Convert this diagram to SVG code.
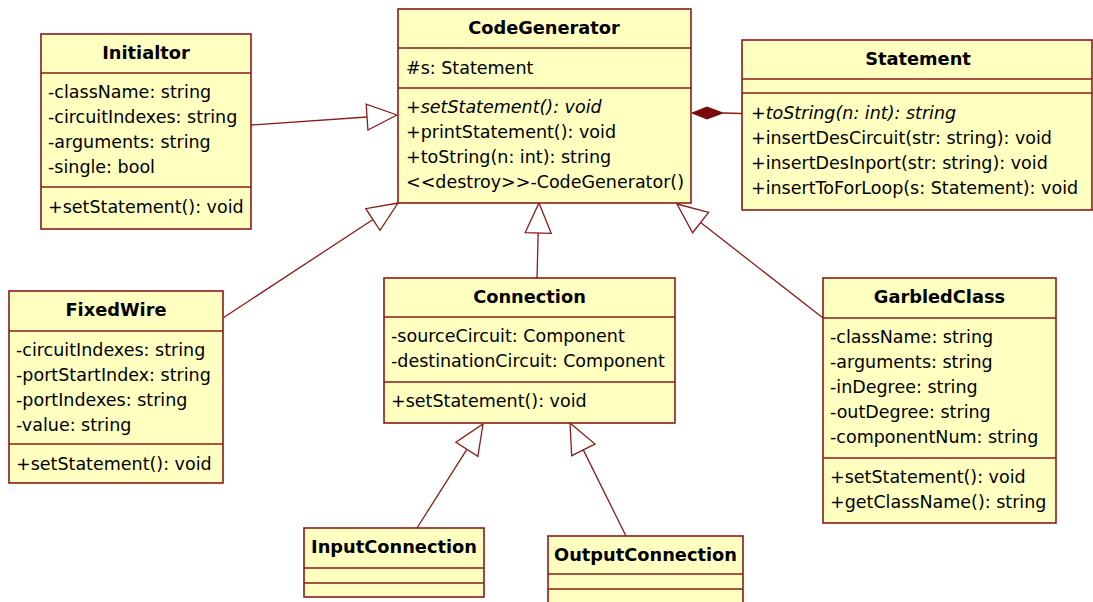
<svg xmlns="http://www.w3.org/2000/svg" width="1093" height="602" viewBox="0 0 1093 602">
  <style>
    .box { fill: #ffffc0; stroke: #8c1a1a; stroke-width: 1.6; }
    .sep { stroke: #8c1a1a; stroke-width: 1.6; }
    .t { font-family: "DejaVu Sans", Verdana, sans-serif; font-size: 17.5px; fill: #000; }
    .title { font-family: "DejaVu Sans", Verdana, sans-serif; font-size: 17.8px; font-weight: bold; fill: #000; text-anchor: middle; }
    .abs { font-style: italic; }
    .edge { stroke: #8c1a1a; stroke-width: 1.3; fill: none; }
    .gen { fill: #ffffff; stroke: #8c1a1a; stroke-width: 1.3; }
    .comp { fill: #7a0a0a; stroke: #7a0a0a; stroke-width: 1; }
  </style>
  <rect width="1093" height="602" fill="#ffffff"/>

  <!-- relationships -->
  <g id="connectors">
    <!-- Initialtor -> CodeGenerator -->
    <line class="edge" x1="251" y1="125" x2="367" y2="117"/>
    <polygon class="gen" points="397,115 367.9,130 366.2,104.1"/>
    <!-- FixedWire -> CodeGenerator -->
    <line class="edge" x1="223" y1="318" x2="373" y2="219.5"/>
    <polygon class="gen" points="398,203 380,230.4 365.8,208.6"/>
    <!-- Connection -> CodeGenerator -->
    <line class="edge" x1="537" y1="278" x2="538.2" y2="233"/>
    <polygon class="gen" points="539,203 551.2,233.3 525.2,232.6"/>
    <!-- GarbledClass -> CodeGenerator -->
    <line class="edge" x1="823" y1="318" x2="700.6" y2="222.5"/>
    <polygon class="gen" points="677,204 708.6,212.3 692.6,232.7"/>
    <!-- InputConnection -> Connection -->
    <line class="edge" x1="417" y1="528" x2="466.9" y2="449.3"/>
    <polygon class="gen" points="483,424 477.9,456.3 455.9,442.3"/>
    <!-- OutputConnection -> Connection -->
    <line class="edge" x1="626" y1="536" x2="583.3" y2="449.9"/>
    <polygon class="gen" points="570,423 595,444.1 571.7,455.7"/>
    <!-- Statement composed in CodeGenerator -->
    <line class="edge" x1="723" y1="113" x2="742" y2="113.5"/>
    <polygon class="comp" points="692,113 707,107 723,113 707,119"/>
  </g>

  <g id="CodeGenerator">
    <rect class="box" x="398" y="9" width="293" height="194"/>
    <line class="sep" x1="398" y1="48" x2="691" y2="48"/>
    <line class="sep" x1="398" y1="88" x2="691" y2="88"/>
    <text class="title" x="544" y="34">CodeGenerator</text>
    <text class="t" x="406" y="74">#s: Statement</text>
    <text class="t abs" x="406" y="113">+setStatement(): void</text>
    <text class="t" x="406" y="138">+printStatement(): void</text>
    <text class="t" x="406" y="163">+toString(n: int): string</text>
    <text class="t" x="406" y="188">&lt;&lt;destroy&gt;&gt;-CodeGenerator()</text>
  </g>

  <g id="Statement">
    <rect class="box" x="742" y="40" width="350" height="170"/>
    <line class="sep" x1="742" y1="79" x2="1092" y2="79"/>
    <line class="sep" x1="742" y1="93" x2="1092" y2="93"/>
    <text class="title" x="918" y="65">Statement</text>
    <text class="t abs" x="751" y="119">+toString(n: int): string</text>
    <text class="t" x="751" y="144">+insertDesCircuit(str: string): void</text>
    <text class="t" x="751" y="169">+insertDesInport(str: string): void</text>
    <text class="t" x="751" y="194">+insertToForLoop(s: Statement): void</text>
  </g>

  <g id="Initialtor">
    <rect class="box" x="41" y="34" width="210" height="195"/>
    <line class="sep" x1="41" y1="73" x2="251" y2="73"/>
    <line class="sep" x1="41" y1="187" x2="251" y2="187"/>
    <text class="title" x="146" y="59">Initialtor</text>
    <text class="t" x="48" y="98">-className: string</text>
    <text class="t" x="48" y="123">-circuitIndexes: string</text>
    <text class="t" x="48" y="148">-arguments: string</text>
    <text class="t" x="48" y="173">-single: bool</text>
    <text class="t" x="48" y="213">+setStatement(): void</text>
  </g>

  <g id="FixedWire">
    <rect class="box" x="9" y="291" width="214" height="192"/>
    <line class="sep" x1="9" y1="331" x2="223" y2="331"/>
    <line class="sep" x1="9" y1="444" x2="223" y2="444"/>
    <text class="title" x="116" y="316">FixedWire</text>
    <text class="t" x="16" y="356">-circuitIndexes: string</text>
    <text class="t" x="16" y="381">-portStartIndex: string</text>
    <text class="t" x="16" y="406">-portIndexes: string</text>
    <text class="t" x="16" y="431">-value: string</text>
    <text class="t" x="16" y="470">+setStatement(): void</text>
  </g>

  <g id="Connection">
    <rect class="box" x="384" y="278" width="291" height="145"/>
    <line class="sep" x1="384" y1="317" x2="675" y2="317"/>
    <line class="sep" x1="384" y1="382" x2="675" y2="382"/>
    <text class="title" x="529.5" y="303">Connection</text>
    <text class="t" x="391" y="342">-sourceCircuit: Component</text>
    <text class="t" x="391" y="367">-destinationCircuit: Component</text>
    <text class="t" x="391" y="407">+setStatement(): void</text>
  </g>

  <g id="GarbledClass">
    <rect class="box" x="823" y="278" width="233" height="245"/>
    <line class="sep" x1="823" y1="318" x2="1056" y2="318"/>
    <line class="sep" x1="823" y1="458" x2="1056" y2="458"/>
    <text class="title" x="939.5" y="303">GarbledClass</text>
    <text class="t" x="830" y="343">-className: string</text>
    <text class="t" x="830" y="368">-arguments: string</text>
    <text class="t" x="830" y="393">-inDegree: string</text>
    <text class="t" x="830" y="418">-outDegree: string</text>
    <text class="t" x="830" y="443">-componentNum: string</text>
    <text class="t" x="830" y="483">+setStatement(): void</text>
    <text class="t" x="830" y="508">+getClassName(): string</text>
  </g>

  <g id="InputConnection">
    <rect class="box" x="304" y="528" width="180" height="69"/>
    <line class="sep" x1="304" y1="568" x2="484" y2="568"/>
    <line class="sep" x1="304" y1="583" x2="484" y2="583"/>
    <text class="title" x="394" y="553">InputConnection</text>
  </g>

  <g id="OutputConnection">
    <rect class="box" x="548" y="536" width="195" height="68"/>
    <line class="sep" x1="548" y1="574" x2="743" y2="574"/>
    <line class="sep" x1="548" y1="589" x2="743" y2="589"/>
    <text class="title" x="645.5" y="561">OutputConnection</text>
  </g>
</svg>
